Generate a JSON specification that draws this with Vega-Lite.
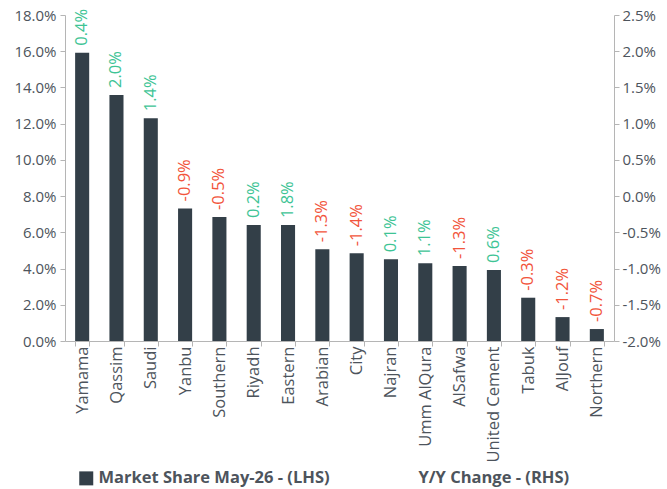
{
  "$schema": "https://vega.github.io/schema/vega-lite/v6.json",
  "width": 549,
  "height": 326,
  "autosize": {"type": "none"},
  "padding": {"left": 65, "top": 15, "right": 53, "bottom": 148},
  "config": {
    "view": {"stroke": null},
    "font": "Open Sans",
    "locale": {"number": {"decimal": ".", "thousands": ",", "grouping": [3], "currency": ["$", ""], "minus": "-"}},
    "axis": {"labelFont": "Open Sans", "labelColor": "#4d545c", "domainColor": "#b5b5b5", "tickColor": "#b5b5b5", "grid": false, "title": null, "labelFontSize": 15, "tickSize": 5}
  },
  "data": {
    "values": [
      {"company": "Yamama", "share": 0.1592, "yy": 0.004},
      {"company": "Qassim", "share": 0.1358, "yy": 0.020},
      {"company": "Saudi", "share": 0.1230, "yy": 0.014},
      {"company": "Yanbu", "share": 0.0732, "yy": -0.009},
      {"company": "Southern", "share": 0.0685, "yy": -0.005},
      {"company": "Riyadh", "share": 0.0640, "yy": 0.002},
      {"company": "Eastern", "share": 0.0640, "yy": 0.018},
      {"company": "Arabian", "share": 0.0506, "yy": -0.013},
      {"company": "City", "share": 0.0484, "yy": -0.014},
      {"company": "Najran", "share": 0.0451, "yy": 0.001},
      {"company": "Umm AlQura", "share": 0.0429, "yy": 0.011},
      {"company": "AlSafwa", "share": 0.0414, "yy": -0.013},
      {"company": "United Cement", "share": 0.0392, "yy": 0.006},
      {"company": "Tabuk", "share": 0.0239, "yy": -0.003},
      {"company": "AlJouf", "share": 0.0132, "yy": -0.012},
      {"company": "Northern", "share": 0.0066, "yy": -0.007}
    ]
  },
  "encoding": {
    "x": {
      "field": "company", "type": "nominal", "sort": null,
      "scale": {"paddingInner": 0.59, "paddingOuter": 0.295},
      "axis": {"labelAngle": 270, "labelAlign": "right", "labelBaseline": "middle", "labelPadding": 0, "tickBand": "extent", "labelFontSize": 16.5}
    }
  },
  "layer": [
    {
      "encoding": {
        "y": {
          "field": "share", "type": "quantitative",
          "scale": {"domain": [0, 0.18], "nice": false},
          "axis": {"orient": "left", "format": ".1%", "values": [0, 0.02, 0.04, 0.06, 0.08, 0.1, 0.12, 0.14, 0.16, 0.18], "labelPadding": 4}
        }
      },
      "layer": [
        {
          "mark": {"type": "bar", "color": "#333f48"},
          "encoding": {
            "fill": {
              "datum": "Market Share May-26 - (LHS)",
              "type": "nominal",
              "scale": {"domain": ["Market Share May-26 - (LHS)", "Y/Y Change - (RHS)"], "range": ["#333f48", "rgba(0,0,0,0)"]},
              "legend": {
                "title": null, "orient": "none", "legendX": 13, "legendY": 455,
                "direction": "horizontal", "symbolType": "square", "symbolSize": 196,
                "symbolStrokeWidth": 0, "labelFontSize": 16.5, "labelFontWeight": "bold", "labelLimit": 400,
                "labelColor": "#4d545c", "labelFont": "Open Sans", "columnPadding": 68, "symbolOffset": 0
              }
            }
          }
        },
        {
          "mark": {"type": "text", "angle": 270, "align": "left", "baseline": "middle", "dx": 7, "fontSize": 16.5, "font": "Open Sans"},
          "encoding": {
            "text": {"field": "yy", "type": "quantitative", "format": ".1%"},
            "color": {"condition": {"test": "datum.yy < 0", "value": "#f2553c"}, "value": "#3ec495"}
          }
        }
      ]
    },
    {
      "mark": {"type": "point", "opacity": 0},
      "encoding": {
        "y": {
          "field": "yy", "type": "quantitative",
          "scale": {"domain": [-0.02, 0.025], "nice": false, "zero": false},
          "axis": {"orient": "right", "format": ".1%", "values": [-0.02, -0.015, -0.01, -0.005, 0, 0.005, 0.01, 0.015, 0.02, 0.025], "labelPadding": 3}
        }
      }
    }
  ],
  "resolve": {"scale": {"y": "independent"}}
}
